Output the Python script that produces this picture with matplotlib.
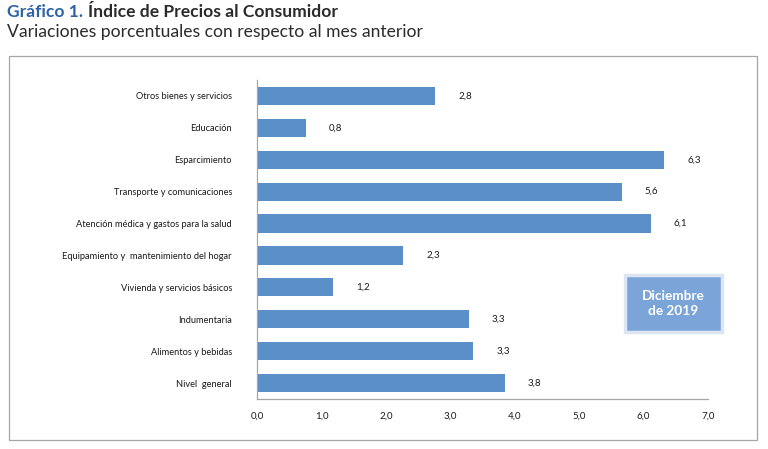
import matplotlib
matplotlib.use("Agg")
import matplotlib.pyplot as plt
from matplotlib.patches import Rectangle

plt.rcParams['font.family'] = ['Lato', 'DejaVu Sans']

categories = ["Otros bienes y servicios", "Educación", "Esparcimiento",
              "Transporte y comunicaciones", "Atención médica y gastos para la salud",
              "Equipamiento y  mantenimiento del hogar", "Vivienda y servicios básicos",
              "Indumentaria", "Alimentos y bebidas", "Nivel  general"]
values = [2.77, 0.76, 6.32, 5.66, 6.11, 2.27, 1.18, 3.29, 3.36, 3.85]
value_labels = ["2,8", "0,8", "6,3", "5,6", "6,1", "2,3", "1,2", "3,3", "3,3", "3,8"]
xticks = [0, 1, 2, 3, 4, 5, 6, 7]
xtick_labels = ["0,0", "1,0", "2,0", "3,0", "4,0", "5,0", "6,0", "7,0"]

W, H = 768, 449
fig = plt.figure(figsize=(W/100, H/100), dpi=100)

# outer frame
fig.patches.append(Rectangle((9/W, 1-440/H), 748/W, 384/H, transform=fig.transFigure,
                             fill=False, edgecolor='#a6a6a6', linewidth=0.9))

ax = fig.add_axes([257/W, 1-399/H, 451/W, 319/H])
ypos = list(range(len(categories)))
ax.barh(ypos, values, height=0.57, color='#5b8fc8')
ax.set_ylim(len(categories)-0.5, -0.5)
ax.set_xlim(0, 7)
ax.set_yticks(ypos)
ax.set_yticklabels(categories, fontsize=6.7, color='#1a1a1a')
ax.set_xticks(xticks)
ax.set_xticklabels(xtick_labels, fontsize=7.0, color='#1a1a1a')
ax.tick_params(axis='y', length=0, pad=18)
ax.tick_params(axis='x', length=0, pad=9)
for s in ['top', 'right']:
    ax.spines[s].set_visible(False)
for s in ['left', 'bottom']:
    ax.spines[s].set_color('#a6a6a6')
    ax.spines[s].set_linewidth(0.9)

for y, v, lab in zip(ypos, values, value_labels):
    ax.text(v + 0.46, y, lab, va='center', ha='center', fontsize=7.0, color='#1a1a1a')

# date box
fig.patches.append(Rectangle((625/W, 1-332/H), 97/W, 57/H, transform=fig.transFigure,
                             facecolor='#7ba5d8', edgecolor='#dde6f2', linewidth=2.5))
fig.text(673.5/W, 1-303.5/H, "Diciembre\nde 2019", ha='center', va='center',
         fontsize=9.8, fontweight='bold', color='white', linespacing=1.3)

# titles
t1 = fig.text(7/W, 1-4/H, "Gráfico 1.", ha='left', va='top', fontsize=12.6,
              fontweight='bold', color='#2e62a6')
fig.canvas.draw()
bb = t1.get_window_extent()
fig.text((bb.x1 + 5)/W, 1-4/H, "Índice de Precios al Consumidor", ha='left', va='top',
         fontsize=12.6, fontweight='bold', color='#2b2b2b')
fig.text(7/W, 1-24/H, "Variaciones porcentuales con respecto al mes anterior",
         ha='left', va='top', fontsize=12.6, color='#2b2b2b')

fig.savefig("out.png", dpi=100)
